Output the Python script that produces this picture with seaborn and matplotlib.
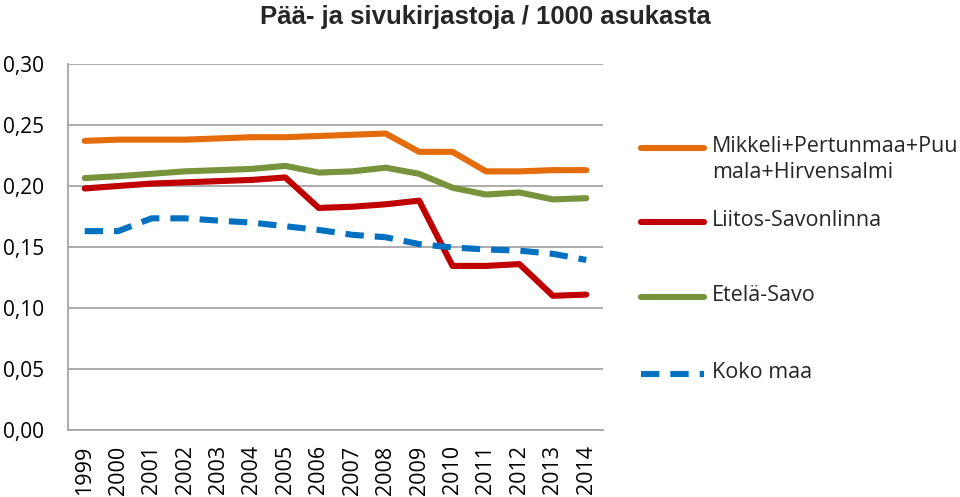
import pandas as pd
import matplotlib.pyplot as plt
import seaborn as sns
from matplotlib.lines import Line2D

# Data
years = [str(y) for y in range(1999, 2015)]
mikkeli = [0.237, 0.238, 0.238, 0.238, 0.239, 0.240, 0.240, 0.241,
           0.242, 0.243, 0.228, 0.228, 0.212, 0.212, 0.213, 0.213]
savonlinna = [0.198, 0.200, 0.202, 0.203, 0.204, 0.205, 0.207, 0.182,
              0.183, 0.185, 0.188, 0.1345, 0.1345, 0.136, 0.110, 0.111]
etela_savo = [0.2065, 0.208, 0.210, 0.212, 0.213, 0.214, 0.2165, 0.211,
              0.212, 0.215, 0.210, 0.1986, 0.193, 0.1947, 0.189, 0.190]
koko_maa = [0.163, 0.163, 0.1735, 0.1735, 0.1716, 0.170, 0.167, 0.164,
            0.160, 0.158, 0.1524, 0.1496, 0.148, 0.147, 0.1444, 0.1394]

series_names = ['Mikkeli+Pertunmaa+Puu\nmala+Hirvensalmi', 'Liitos-Savonlinna',
                'Etelä-Savo', 'Koko maa']
series_values = [mikkeli, savonlinna, etela_savo, koko_maa]
colors = ['#E46C0A', '#C00000', '#77933C', '#0070C0']
y_ticks = [0.00, 0.05, 0.10, 0.15, 0.20, 0.25, 0.30]

sns.set_theme(style='white')
plt.rcParams['font.family'] = ['Open Sans', 'DejaVu Sans']

fig = plt.figure(figsize=(9.6, 4.97), dpi=100)
ax = fig.add_axes([68 / 960, 1 - 430 / 497, 535 / 960, 366 / 497])

for name, vals, col in zip(series_names, series_values, colors):
    df = pd.DataFrame({'year': years, 'value': vals})
    line_style = (0, (3, 1.8)) if name == 'Koko maa' else '-'
    sns.lineplot(data=df, x='year', y='value', ax=ax, color=col, lw=4.4,
                 linestyle=line_style, sort=False)

ax.set_xlim(-0.5, len(years) - 0.5)
ax.set_ylim(0, 0.30)
ax.set_yticks(y_ticks)
ax.set_yticklabels([f'{v:.2f}'.replace('.', ',') for v in y_ticks], fontsize=15)
ax.set_xticks(range(len(years)))
ax.set_xticklabels(years, rotation=90, fontsize=15.5)
ax.tick_params(axis='y', length=0, pad=17, colors='black')
ax.tick_params(axis='x', length=0, pad=11, colors='black')
ax.set_xlabel('')
ax.set_ylabel('')
ax.grid(axis='y', color='#A6A6A6', lw=1.3)
ax.grid(axis='x', visible=False)
for side in ['top', 'right']:
    ax.spines[side].set_visible(False)
for side in ['left', 'bottom']:
    ax.spines[side].set_color('#A6A6A6')
    ax.spines[side].set_linewidth(1.3)

fig.text(485 / 960, 1 - 17 / 497, 'Pää- ja sivukirjastoja / 1000 asukasta',
         ha='center', va='center', fontsize=18.5, fontweight='bold',
         family=['Liberation Sans', 'DejaVu Sans'])

# legend drawn by hand so the handles sit beside the first line of each label
legend_y = [148, 222, 297, 374]
for name, col, yy in zip(series_names, colors, legend_y):
    line_style = (0, (3, 1.8)) if name == 'Koko maa' else '-'
    fig.add_artist(Line2D([641 / 960, 704 / 960], [1 - yy / 497] * 2, color=col,
                          lw=4.4, linestyle=line_style, transform=fig.transFigure))
    fig.text(712 / 960, 1 - (yy - 12) / 497, name, ha='left', va='top',
             fontsize=15.5, linespacing=1.3)

fig.savefig('out.png', dpi=100)
